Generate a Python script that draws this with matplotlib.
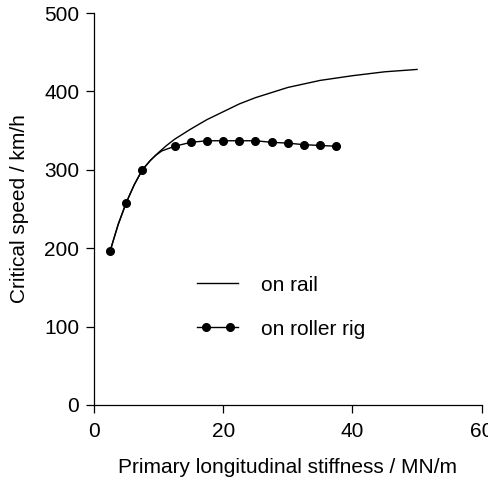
import numpy as np
import matplotlib
matplotlib.use("Agg")
from matplotlib import pyplot as plt
from matplotlib.lines import Line2D
from matplotlib.legend_handler import HandlerLine2D

# values
rail_x = [2.5, 3.75, 5, 6.25, 7.5, 8.75, 10, 11.25, 12.5, 15, 17.5, 20,
          22.5, 25, 30, 35, 40, 45, 50]
rail_y = [196, 230, 258, 281, 300, 312, 322, 331, 339, 352, 364, 374,
          384, 392, 405, 414, 420, 425, 428]

rig_x = [2.5, 3.75, 5, 6.25, 7.5, 8.75, 9.5, 10.5, 12.5, 15, 17.5, 20,
         22.5, 25, 27.5, 30, 32.5, 35, 37.5]
rig_y = [196, 230, 258, 281, 300, 312, 318, 324, 330, 335, 337, 337,
         337, 337, 335, 334, 332, 331, 330]
rig_marks = [0, 2, 4, 8, 9, 10, 11, 12, 13, 14, 15, 16, 17, 18]

x_ticks = [0, 20, 40, 60]
y_ticks = [0, 100, 200, 300, 400, 500]

plt.rcParams['font.family'] = ['Liberation Sans', 'DejaVu Sans']
fs = 15

fig = plt.figure(figsize=(4.89, 4.82), dpi=100)
ax = fig.add_axes([0.192, 0.16, 0.793, 0.813])

ax.plot(rail_x, rail_y, color='black', lw=1.0)
ax.plot(rig_x, rig_y, color='black', lw=1.0, marker='o', markersize=5.5,
        markevery=rig_marks)

ax.set_xlim(0, 60)
ax.set_ylim(0, 500)
ax.set_xticks(x_ticks)
ax.set_yticks(y_ticks)
ax.spines['top'].set_visible(False)
ax.spines['right'].set_visible(False)
for s in ('left', 'bottom'):
    ax.spines[s].set_linewidth(0.9)
ax.tick_params(direction='out', length=5.5, width=0.9, labelsize=fs)
ax.tick_params(axis='x', pad=7)
ax.tick_params(axis='y', pad=5)
ax.set_xlabel('Primary longitudinal stiffness / MN/m', fontsize=fs, labelpad=12)
ax.set_ylabel('Critical speed / km/h', fontsize=fs, labelpad=11)

# legend: full-length line, dots set in from the ends
rail_h = Line2D([], [], color='black', lw=1.0)
rig_line = Line2D([], [], color='black', lw=1.0)
rig_dots = Line2D([], [], color='black', ls='none', marker='o', markersize=5.5)
hmap = {rail_h: HandlerLine2D(marker_pad=0),
        rig_line: HandlerLine2D(marker_pad=0),
        rig_dots: HandlerLine2D(marker_pad=0.41)}
ax.legend([rail_h, (rig_line, rig_dots)], ['on rail', 'on roller rig'],
          handler_map=hmap, loc='upper left', bbox_to_anchor=(0.266, 0.33),
          frameon=False, borderpad=0, borderaxespad=0,
          handlelength=1.97, handletextpad=1.1, labelspacing=1.2,
          fontsize=fs, numpoints=2)

fig.savefig('out.png', dpi=100)
